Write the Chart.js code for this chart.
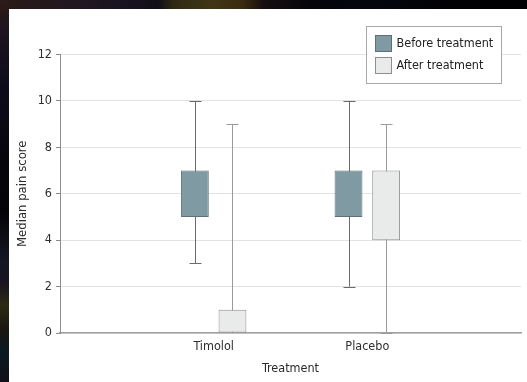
<!DOCTYPE html>
<html>
<head>
<meta charset="utf-8">
<script src="https://cdn.jsdelivr.net/npm/chart.js@4/dist/chart.umd.min.js"></script>
<style>
  html, body { margin: 0; padding: 0; }
  body { width: 527px; height: 382px; position: relative; overflow: hidden; background: #05040a; }
  #topStrip { position: absolute; left: 0; top: 0; width: 527px; height: 9px;
    background: linear-gradient(to right, #2a1a16 0%, #231820 12%, #1a1420 22%, #120e18 30%, #2e2a12 33%, #403616 40%, #3a2c10 46%, #160e10 50%, #04040a 60%, #03060e 70%, #020205 85%, #010103 100%); }
  #leftStrip { position: absolute; left: 0; top: 0; width: 9px; height: 382px;
    background: linear-gradient(to bottom, #2c1c16 0%, #1e1420 8%, #0e0c1c 22%, #08060e 40%, #040306 55%, #141624 68%, #1a1420 74%, #2c2a14 80%, #1c1610 86%, #0a1a22 92%, #121018 100%); }
  #panel { position: absolute; left: 9px; top: 9px; width: 518px; height: 373px; background: #ffffff; }
  canvas { display: block; }
</style>
</head>
<body>
<div id="topStrip"></div>
<div id="leftStrip"></div>
<div id="panel"><canvas id="chart" width="518" height="373"></canvas></div>
<script>
// Groups on the x axis
const categories = ['Timolol', 'Placebo'];

// Pain scores before treatment: whisker ends and box edges
const beforeMin = [3, 2];
const beforeQ1  = [5, 5];
const beforeQ3  = [7, 7];
const beforeMax = [10, 10];

// Pain scores after treatment
const afterMin = [0, 0];
const afterQ1  = [0, 4];
const afterQ3  = [1, 7];
const afterMax = [9, 9];

// Y axis tick values
const yTickValues = [0, 2, 4, 6, 8, 10, 12];

const FONT_FAMILY = '"DejaVu Sans Condensed", "Liberation Sans Narrow", "DejaVu Sans", sans-serif';

// Empty slots at both ends put the two groups at one and two thirds of the width
const labels = [''].concat(categories, ['']);
const pad = arr => [null].concat(arr, [null]);
const boxes = (lo, hi) => pad(lo.map((v, i) => [v, hi[i]]));

const seriesStyle = [
  { fill: '#7f9aa2', border: '#5e6f75', whisker: '#6a6a6a', min: beforeMin, max: beforeMax },
  { fill: '#e9ebea', border: '#8e8e8e', whisker: '#9a9a9a', min: afterMin,  max: afterMax }
];

// Whiskers with end caps, drawn behind the boxes
const whiskerPlugin = {
  id: 'whiskers',
  beforeDatasetsDraw(chart) {
    const ctx = chart.ctx;
    const y = chart.scales.y;
    chart.data.datasets.forEach((ds, di) => {
      const meta = chart.getDatasetMeta(di);
      const st = seriesStyle[di];
      meta.data.forEach((bar, j) => {
        const raw = ds.data[j];
        if (!raw) return;
        const k = j - 1;
        const x = Math.round(bar.x) + 0.5;
        const yMin = y.getPixelForValue(st.min[k]);
        const yMax = y.getPixelForValue(st.max[k]);
        const cap = 6;
        ctx.save();
        ctx.strokeStyle = st.whisker;
        ctx.lineWidth = 1;
        ctx.beginPath();
        ctx.moveTo(x, yMin);
        ctx.lineTo(x, yMax);
        if (st.max[k] > raw[1]) {
          ctx.moveTo(x - cap, Math.round(yMax) + 0.5);
          ctx.lineTo(x + cap, Math.round(yMax) + 0.5);
        }
        if (st.min[k] < raw[0]) {
          ctx.moveTo(x - cap, Math.round(yMin) + 0.5);
          ctx.lineTo(x + cap, Math.round(yMin) + 0.5);
        }
        ctx.stroke();
        ctx.restore();
      });
    });
  }
};

// Boxed legend in the upper right corner
const boxLegendPlugin = {
  id: 'boxLegend',
  afterDraw(chart) {
    const ctx = chart.ctx;
    const area = chart.chartArea;
    const w = 135, h = 57;
    const left = Math.round(area.right - 20 - w) + 0.5;
    const top = Math.round(area.top - 29) + 0.5;
    ctx.save();
    ctx.fillStyle = '#ffffff';
    ctx.fillRect(left, top, w, h);
    ctx.strokeStyle = '#a8a8a8';
    ctx.lineWidth = 1;
    ctx.strokeRect(left, top, w, h);
    ctx.font = '12.5px ' + FONT_FAMILY;
    ctx.textBaseline = 'middle';
    ctx.textAlign = 'left';
    chart.data.datasets.forEach((ds, i) => {
      const sx = left + 9;
      const sy = top + 9 + i * 22;
      ctx.fillStyle = ds.backgroundColor;
      ctx.fillRect(sx, sy, 16, 16);
      ctx.strokeStyle = ds.borderColor;
      ctx.strokeRect(sx, sy, 16, 16);
      ctx.fillStyle = '#222222';
      ctx.fillText(ds.label, sx + 21, sy + 8.5);
    });
    ctx.restore();
  }
};

new Chart(document.getElementById('chart'), {
  type: 'bar',
  data: {
    labels: labels,
    datasets: [
      {
        label: 'Before treatment',
        data: boxes(beforeQ1, beforeQ3),
        backgroundColor: seriesStyle[0].fill,
        borderColor: seriesStyle[0].border,
        borderWidth: 1,
        borderSkipped: false,
        categoryPercentage: 0.49,
        barPercentage: 0.74
      },
      {
        label: 'After treatment',
        data: boxes(afterQ1, afterQ3),
        backgroundColor: seriesStyle[1].fill,
        borderColor: seriesStyle[1].border,
        borderWidth: 1,
        borderSkipped: false,
        categoryPercentage: 0.49,
        barPercentage: 0.74
      }
    ]
  },
  options: {
    responsive: false,
    devicePixelRatio: 1,
    animation: false,
    layout: { padding: { top: 45.5, right: 4, left: 0, bottom: 0 } },
    plugins: {
      legend: { display: false },
      tooltip: { enabled: false }
    },
    scales: {
      x: {
        type: 'category',
        offset: false,
        grid: { display: false, drawTicks: false },
        border: { display: true, color: '#a0a0a0', width: 1.5 },
        ticks: {
          color: '#2e2e2e',
          padding: 6,
          maxRotation: 0,
          autoSkip: false,
          font: { family: FONT_FAMILY, size: 12.5 }
        },
        title: {
          display: true,
          text: 'Treatment',
          color: '#2a2a2a',
          font: { family: FONT_FAMILY, size: 12.5 },
          padding: { top: 0, bottom: 6 }
        },
        afterFit(scale) { scale.height = 49; }
      },
      y: {
        min: 0,
        max: 12,
        grid: {
          color: '#e2e2e2',
          lineWidth: 1,
          drawTicks: true,
          tickLength: 4,
          tickColor: '#8a8a8a'
        },
        border: { display: true, color: '#8e8e8e', width: 1 },
        afterBuildTicks(scale) {
          scale.ticks = yTickValues.map(v => ({ value: v }));
        },
        ticks: {
          color: '#2e2e2e',
          padding: 4,
          font: { family: FONT_FAMILY, size: 12.5 }
        },
        title: {
          display: true,
          text: 'Median pain score',
          color: '#2a2a2a',
          font: { family: FONT_FAMILY, size: 13 },
          padding: { top: 6, bottom: 0 }
        },
        afterFit(scale) { scale.width = 51; }
      }
    }
  },
  plugins: [whiskerPlugin, boxLegendPlugin]
});
</script>
</body>
</html>
